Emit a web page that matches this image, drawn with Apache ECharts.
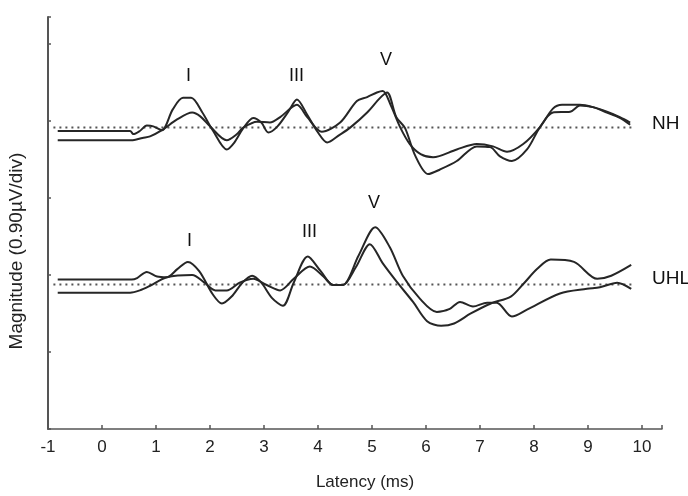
<!doctype html>
<html lang="en">
<head>
<meta charset="UTF-8">
<title>ABR waveforms</title>
<style>
  html, body { margin: 0; padding: 0; background: #fff; }
  #main { width: 688px; height: 496px; }
</style>
</head>
<body>
<div id="main"></div>
<script src="https://cdn.jsdelivr.net/npm/echarts@6/dist/echarts.min.js"></script>
<script>
// latency in ms, magnitude in divisions (0.90 uV/div)
var xTicks = [-1, 0, 1, 2, 3, 4, 5, 6, 7, 8, 9, 10];

var nhBaseline = 3.915;
var uhlBaseline = 1.877;
var baselineSpan = [-0.9, 9.85];

var nhTraceA = [[-0.82,3.87],[0.52,3.87],[0.58,3.83],[0.70,3.87],[0.83,3.94],[0.95,3.93],[1.11,3.88],[1.31,4.15],[1.50,4.30],[1.65,4.30],[1.85,4.12],[2.05,3.88],[2.31,3.63],[2.45,3.72],[2.61,3.90],[2.80,4.04],[2.95,3.98],[3.08,3.85],[3.25,3.93],[3.45,4.12],[3.61,4.28],[3.80,4.08],[4.00,3.85],[4.17,3.72],[4.40,3.82],[4.59,3.91],[4.91,4.11],[5.15,4.30],[5.28,4.37],[5.45,4.05],[5.61,3.91],[5.80,3.55],[6.04,3.31],[6.26,3.37],[6.57,3.48],[6.94,3.67],[7.19,3.66],[7.37,3.54],[7.59,3.48],[7.87,3.63],[8.11,3.92],[8.35,4.11],[8.67,4.12],[8.85,4.20],[9.09,4.18],[9.35,4.11],[9.59,4.04],[9.78,3.95]];

var nhTraceB = [[-0.82,3.75],[0.57,3.75],[0.75,3.78],[0.89,3.80],[1.11,3.88],[1.39,4.02],[1.67,4.11],[1.82,4.06],[2.00,3.93],[2.31,3.75],[2.50,3.83],[2.61,3.91],[2.87,3.99],[3.11,3.98],[3.30,4.05],[3.61,4.21],[3.80,4.05],[4.07,3.86],[4.41,3.98],[4.72,4.26],[4.91,4.31],[5.09,4.37],[5.20,4.39],[5.35,4.20],[5.52,3.92],[5.70,3.70],[5.90,3.57],[6.13,3.53],[6.57,3.63],[6.94,3.70],[7.24,3.67],[7.50,3.60],[7.80,3.70],[8.11,3.92],[8.35,4.16],[8.52,4.21],[8.85,4.21],[9.09,4.18],[9.35,4.12],[9.59,4.05],[9.78,3.98]];

var uhlTraceA = [[-0.82,1.94],[0.55,1.94],[0.65,1.96],[0.83,2.04],[1.02,1.98],[1.20,1.97],[1.40,2.08],[1.59,2.17],[1.80,2.05],[2.05,1.75],[2.22,1.63],[2.40,1.72],[2.60,1.90],[2.78,1.99],[2.95,1.90],[3.15,1.70],[3.35,1.60],[3.55,1.90],[3.81,2.24],[4.05,2.05],[4.28,1.87],[4.46,1.87],[4.75,2.25],[5.06,2.62],[5.33,2.36],[5.57,1.99],[5.89,1.69],[6.20,1.52],[6.44,1.56],[6.63,1.65],[6.87,1.59],[7.13,1.64],[7.31,1.64],[7.59,1.46],[7.87,1.55],[8.48,1.76],[8.98,1.82],[9.22,1.84],[9.54,1.90],[9.80,1.82]];

var uhlTraceB = [[-0.82,1.77],[0.52,1.77],[0.70,1.80],[0.89,1.86],[1.20,1.97],[1.67,2.00],[1.90,1.90],[2.10,1.80],[2.31,1.80],[2.55,1.90],[2.80,1.95],[3.05,1.87],[3.30,1.80],[3.55,1.95],[3.85,2.11],[4.10,1.98],[4.28,1.87],[4.46,1.87],[4.70,2.10],[4.96,2.40],[5.20,2.15],[5.46,1.91],[5.76,1.65],[6.02,1.40],[6.28,1.34],[6.52,1.37],[6.83,1.50],[7.20,1.63],[7.57,1.72],[7.81,1.89],[8.06,2.08],[8.31,2.20],[8.74,2.17],[9.17,1.95],[9.43,1.99],[9.80,2.13]];

var groupNames = ['NH', 'UHL'];
var waveNames = ['I', 'III', 'V'];

var myChart = echarts.init(document.getElementById('main'));

var font = "'Liberation Sans', Arial, sans-serif";
var traceStyle = { color: '#262626', width: 2 };
var dotStyle = { color: '#555', width: 2, type: [2, 4] };

function trace(data) {
	return {
		type: 'line', data: data, smooth: 0.3,
		symbol: 'none', lineStyle: traceStyle, silent: true, z: 3
	};
}
function baseline(level) {
	return {
		type: 'line', data: [[baselineSpan[0], level], [baselineSpan[1], level]],
		symbol: 'none', lineStyle: dotStyle, silent: true, z: 2
	};
}
function txt(s, x, y, size) {
	return {
		type: 'text', left: x, top: y,
		style: { text: s, font: size + 'px ' + font, fill: '#111' }
	};
}

var option = {
	animation: false,
	backgroundColor: '#fff',
	grid: { left: 48, right: 26, top: 17, bottom: 65 },
	xAxis: {
		type: 'value', min: -1, max: 10.37, interval: 1,
		splitLine: { show: false },
		axisLine: { onZero: false, lineStyle: { color: '#555', width: 1.5 } },
		axisTick: { inside: true, length: 4, lineStyle: { color: '#555', width: 1.5 } },
		axisLabel: {
			margin: 10, color: '#222', fontSize: 17, fontFamily: font,
			formatter: function (v) { return xTicks.indexOf(v) >= 0 ? String(v) : ''; }
		},
		name: 'Latency (ms)', nameLocation: 'middle', nameGap: 45,
		nameTextStyle: { color: '#222', fontSize: 17, fontFamily: font, padding: [0, 0, 0, 20] }
	},
	yAxis: {
		type: 'value', min: 0, max: 5.35, interval: 1,
		splitLine: { show: false },
		axisLine: { show: true, onZero: false, lineStyle: { color: '#555', width: 2 } },
		axisTick: { show: true, inside: true, length: 3, lineStyle: { color: '#555', width: 1.5 } },
		axisLabel: { show: false }
	},
	graphic: [
		txt(groupNames[0], 652, 114, 19),
		txt(groupNames[1], 652, 269, 19),
		txt(waveNames[0], 186, 67, 18),
		txt(waveNames[1], 289, 67, 18),
		txt(waveNames[2], 380, 51, 18),
		txt(waveNames[0], 187, 232, 18),
		txt(waveNames[1], 302, 223, 18),
		txt(waveNames[2], 368, 194, 18),
		{
			type: 'text', x: 17, y: 251, rotation: Math.PI / 2,
			style: {
				text: 'Magnitude (0.90µV/div)', font: '19px ' + font, fill: '#222',
				align: 'center', verticalAlign: 'middle'
			}
		}
	],
	series: [
		baseline(nhBaseline),
		baseline(uhlBaseline),
		trace(nhTraceA),
		trace(nhTraceB),
		trace(uhlTraceA),
		trace(uhlTraceB)
	]
};

myChart.setOption(option);
</script>
</body>
</html>
